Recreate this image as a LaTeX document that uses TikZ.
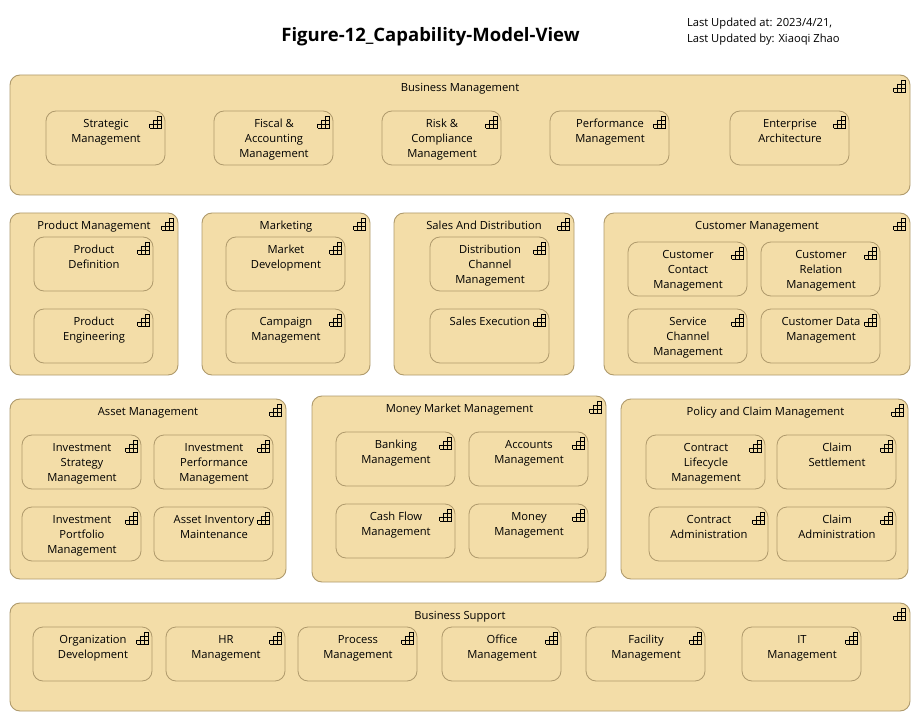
\documentclass[tikz,border=0pt]{standalone}
\usepackage{fontspec}
\setmainfont{Open Sans}
\tikzset{
  groupbox/.style={draw=boxline,fill=boxfill,line width=0.9pt,rounded corners=10pt},
  capbox/.style={draw=boxline,fill=boxfill,line width=0.8pt,rounded corners=10pt},
  lbl/.style={inner sep=0pt,outer sep=0pt,align=center,font=\fontsize{11.2}{15}\selectfont,text=black},
  capicon/.pic={
    \draw[line width=0.7pt,black]
      (-12,12)--(0,12) (-12,8)--(0,8) (-8,4)--(0,4) (-4,0)--(0,0)
      (0,0)--(0,12) (-4,0)--(-4,12) (-8,4)--(-8,12) (-12,8)--(-12,12);
  }
}
\definecolor{boxfill}{HTML}{F3DDA8}
\definecolor{boxline}{HTML}{AF9A6C}
% name, x1, y1, x2, y2, title, title centre x, title baseline y
\newcommand{\groupbox}[8]{%
  \path[groupbox] (#2,#3) rectangle (#4,#5);
  \coordinate (#1) at (#2,#3);
  \node[lbl,anchor=base] (#1t) at (#7,#8+4.2) {#6};
  \pic at (#4-4.5,#3+5) {capicon};
}
% name, x1, y1, text
\newcommand{\capability}[4]{%
  \path[capbox] (#2,#3) rectangle ++(119,54);
  \coordinate (#1) at (#2,#3);
  \node[lbl,anchor=north] (#1t) at (#2+60,#3+4.5) {\rule{0pt}{12pt}#4};
  \pic at (#2+115.5,#3+5) {capicon};
}
\begin{document}
\begin{tikzpicture}[x=1pt,y=-1pt]
\useasboundingbox (0,0) rectangle (921,722);
\fill[white] (0,0) rectangle (921,722);
\node[inner sep=0pt,anchor=base,font=\bfseries\fontsize{18.5}{20}\selectfont] (title) at (430.5,42) {Figure-12\_Capability-Model-View};
\node[lbl,anchor=north west,align=left,font=\fontsize{11.2}{16}\selectfont] (upd) at (687,18) {Last Updated at: 2023/4/21,\\Last Updated by: Xiaoqi Zhao};

\groupbox{bm}{10}{75}{910}{195}{Business Management}{460}{87}
\capability{c1}{46}{111}{Strategic\\Management}
\capability{c2}{214}{111}{Fiscal \&\\Accounting\\Management}
\capability{c3}{382}{111}{Risk \&\\Compliance\\Management}
\capability{c4}{550}{111}{Performance\\Management}
\capability{c5}{730}{111}{Enterprise\\Architecture}

\groupbox{pm}{10}{213}{178}{375}{Product Management}{94}{225}
\capability{c6}{34}{237}{Product\\Definition}
\capability{c7}{34}{309}{Product\\Engineering}

\groupbox{mk}{202}{213}{370}{375}{Marketing}{286}{225}
\capability{c8}{226}{237}{Market\\Development}
\capability{c9}{226}{309}{Campaign\\Management}

\groupbox{sd}{394}{213}{574}{375}{Sales And Distribution}{484}{225}
\capability{c10}{430}{237}{Distribution\\Channel\\Management}
\capability{c11}{430}{309}{Sales Execution}

\groupbox{cm}{604}{213}{910}{375}{Customer Management}{757}{225}
\capability{c12}{628}{242}{Customer\\Contact\\Management}
\capability{c13}{761}{242}{Customer\\Relation\\Management}
\capability{c14}{628}{309}{Service\\Channel\\Management}
\capability{c15}{761}{309}{Customer Data\\Management}

\groupbox{am}{10}{399}{286}{579}{Asset Management}{148}{411}
\capability{c16}{22}{435}{Investment\\Strategy\\Management}
\capability{c17}{154}{435}{Investment\\Performance\\Management}
\capability{c18}{22}{507}{Investment\\Portfolio\\Management}
\capability{c19}{154}{507}{Asset Inventory\\Maintenance}

\groupbox{mm}{312}{396}{606}{582}{Money Market Management}{459.5}{408}
\capability{c20}{336}{432}{Banking\\Management}
\capability{c21}{469}{432}{Accounts\\Management}
\capability{c22}{336}{504}{Cash Flow\\Management}
\capability{c23}{469}{504}{Money\\Management}

\groupbox{pc}{621}{399}{908}{579}{Policy and Claim Management}{765.5}{411}
\capability{c24}{646}{435}{Contract\\Lifecycle\\Management}
\capability{c25}{777}{435}{Claim\\Settlement}
\capability{c26}{649}{507}{Contract\\Administration}
\capability{c27}{777}{507}{Claim\\Administration}

\groupbox{bs}{10}{603}{910}{711}{Business Support}{460}{615}
\capability{c28}{33}{627}{Organization\\Development}
\capability{c29}{166}{627}{HR\\Management}
\capability{c30}{298}{627}{Process\\Management}
\capability{c31}{442}{627}{Office\\Management}
\capability{c32}{586}{627}{Facility\\Management}
\capability{c33}{742}{627}{IT\\Management}
\end{tikzpicture}
\end{document}
